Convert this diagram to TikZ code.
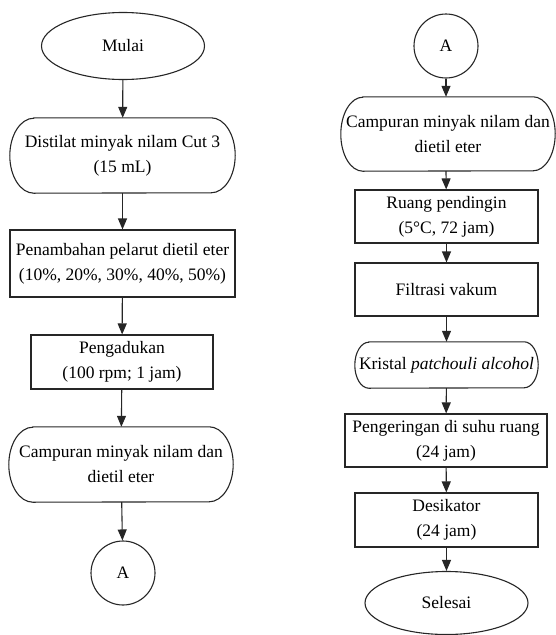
\documentclass[tikz,border=0pt]{standalone}
\usepackage{fontspec}
\setmainfont{Liberation Serif}
\usetikzlibrary{arrows.meta,shapes.geometric}
\tikzset{
  ln/.style={draw=black!85, line width=1.1pt},
  base/.style={align=center, inner sep=0pt, font=\fontsize{17.5}{25}\selectfont},
  boxn/.style={base, ln, rectangle},
  ovaln/.style={base, ln, ellipse},
  circn/.style={base, ln, circle, minimum size=64pt},
  stadn/.style={base, draw=none, rectangle},
  arr/.style={ln, -{Triangle[length=11pt,width=9pt]}},
}
\newcommand{\mystad}[3]{%
  \draw[ln] ([xshift=#2]#1.north west) -- ([xshift=-#2]#1.north east)
    arc[start angle=90, end angle=-90, x radius=#2, y radius=#3]
    -- ([xshift=#2]#1.south west)
    arc[start angle=270, end angle=90, x radius=#2, y radius=#3] -- cycle;}
\begin{document}
\begin{tikzpicture}[x=1pt,y=-1pt]
\useasboundingbox (0,0) rectangle (556,635);
% left column
\node[ovaln, minimum width=163pt, minimum height=67pt] (mulai) at (123,46) {Mulai};
\node[stadn, minimum width=225pt, minimum height=75pt] (dist) at (122.5,155.5) {Distilat minyak nilam Cut 3\\(15 mL)};
\mystad{dist}{24pt}{37.5pt}
\node[boxn, minimum width=225pt, minimum height=67pt] (pen) at (122.5,263.5) {Penambahan pelarut dietil eter\\(10\%, 20\%, 30\%, 40\%, 50\%)};
\node[boxn, minimum width=182pt, minimum height=54pt] (peng) at (122,362) {Pengadukan\\(100 rpm; 1 jam)};
\node[stadn, minimum width=224pt, minimum height=75pt] (campa) at (121,464.5) {Campuran minyak nilam dan\\dietil eter};
\mystad{campa}{24pt}{37.5pt}
\node[circn] (aa) at (123,573) {A};
% right column
\node[circn] (ab) at (446,46) {A};
\node[stadn, minimum width=214pt, minimum height=74pt] (campb) at (448,134) {Campuran minyak nilam dan\\dietil eter};
\mystad{campb}{22pt}{37pt}
\node[boxn, minimum width=183pt, minimum height=53pt] (ruang) at (446.5,216.5) {Ruang pendingin\\(5°C, 72 jam)};
\node[boxn, minimum width=183pt, minimum height=53pt] (filt) at (446.5,289.5) {Filtrasi vakum};
\node[stadn, minimum width=183pt, minimum height=46pt] (kris) at (446.5,365) {Kristal \textit{patchouli alcohol}};
\mystad{kris}{14pt}{23pt}
\node[boxn, minimum width=202pt, minimum height=53pt] (penge) at (446,440.5) {Pengeringan di suhu ruang\\(24 jam)};
\node[boxn, minimum width=183pt, minimum height=54pt] (desi) at (446.5,520) {Desikator\\(24 jam)};
\node[ovaln, minimum width=163pt, minimum height=63pt] (sel) at (446.5,603) {Selesai};
% arrows
\draw[arr] (mulai) -- (dist);
\draw[arr] (dist) -- (pen);
\draw[arr] (pen) -- (peng);
\draw[arr] (peng) -- (campa);
\draw[arr] (campa) -- (aa);
\draw[arr] (ab) -- (ab |- campb.north);
\draw[arr] (ab |- campb.south) -- (ruang);
\draw[arr] (ruang) -- (filt);
\draw[arr] (filt) -- (kris);
\draw[arr] (kris) -- (penge);
\draw[arr] (penge) -- (desi);
\draw[arr] (desi) -- (sel);
\end{tikzpicture}
\end{document}
